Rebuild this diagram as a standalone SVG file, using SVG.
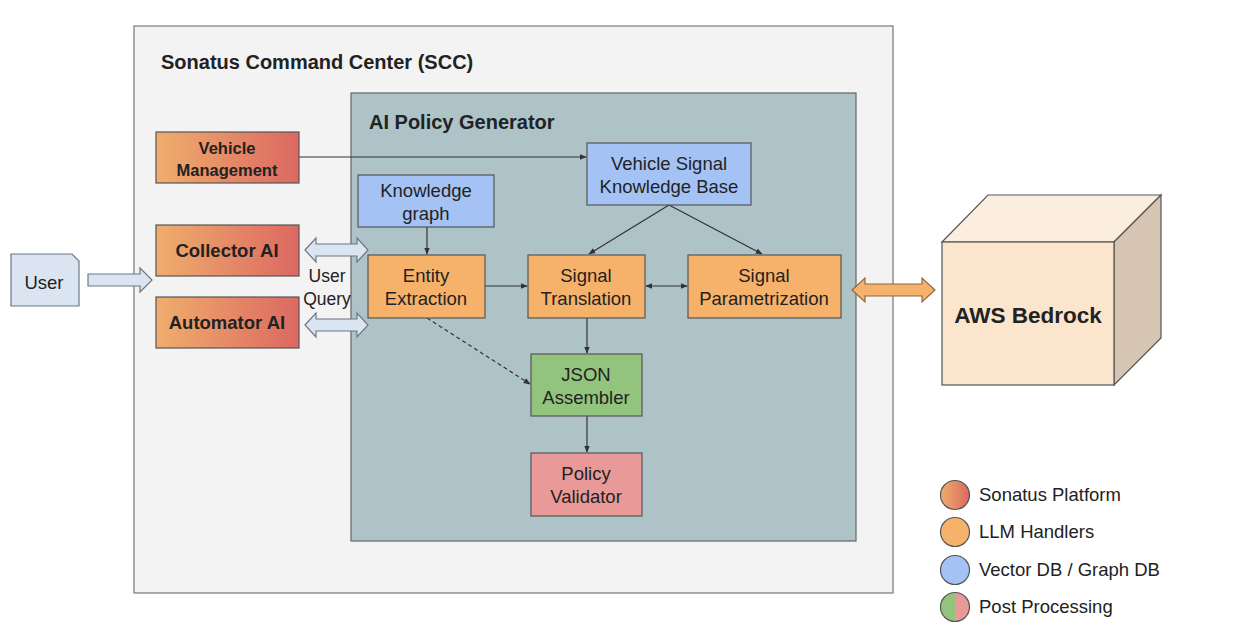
<svg xmlns="http://www.w3.org/2000/svg" width="1236" height="630" viewBox="0 0 1236 630">
<defs>
<linearGradient id="plat" x1="0" y1="0" x2="1" y2="0">
<stop offset="0" stop-color="#efae6c"/>
<stop offset="1" stop-color="#dc6862"/>
</linearGradient>
<linearGradient id="post" x1="0" y1="0" x2="1" y2="0">
<stop offset="0.5" stop-color="#93c47d"/>
<stop offset="0.5" stop-color="#ea9999"/>
</linearGradient>
<marker id="ah" viewBox="0 0 10 10" refX="9" refY="5" markerWidth="7" markerHeight="7" markerUnits="userSpaceOnUse" orient="auto-start-reverse">
<path d="M0,1 L10,5 L0,9 Z" fill="#333"/>
</marker>
<style>
text{font-family:"Liberation Sans",Arial,sans-serif;fill:#222;text-anchor:middle}
.t{font-size:18.5px}
.b{font-weight:bold}
.plat{fill:url(#plat);stroke:#555;stroke-width:1.2}
.llm{fill:#f6b26b;stroke:#555;stroke-width:1.2}
.db{fill:#a4c2f4;stroke:#555;stroke-width:1.2}
.json{fill:#93c47d;stroke:#555;stroke-width:1.2}
.val{fill:#ea9999;stroke:#555;stroke-width:1.2}
.c{stroke:#333;stroke-width:1.2;fill:none}
.blk{fill:#dbe5f1;stroke:#6b7785;stroke-width:1.2}
.leg{font-size:18.5px;text-anchor:start}
</style>
</defs>
<rect width="1236" height="630" fill="#ffffff"/>

<g id="scc">
<rect x="134" y="26" width="759" height="567" fill="#f3f3f3" stroke="#777" stroke-width="1.2"/>
<text x="161" y="69" class="b" style="font-size:20px;text-anchor:start">Sonatus Command Center (SCC)</text>
</g>

<g id="ai-policy-generator">
<rect x="351" y="93" width="505" height="448" fill="#adc3c8" stroke="#666" stroke-width="1.2"/>
<text x="369" y="129" class="b" style="font-size:20px;text-anchor:start">AI Policy Generator</text>
</g>

<g id="connectors">
<line x1="299" y1="157" x2="586" y2="157" class="c" marker-end="url(#ah)"/>
<line x1="427" y1="227" x2="427" y2="254" class="c" marker-end="url(#ah)"/>
<line x1="669" y1="205" x2="589" y2="254" class="c" marker-end="url(#ah)"/>
<line x1="669" y1="205" x2="762" y2="254" class="c" marker-end="url(#ah)"/>
<line x1="485" y1="286" x2="527" y2="286" class="c" marker-end="url(#ah)"/>
<line x1="646" y1="286" x2="687" y2="286" class="c" marker-start="url(#ah)" marker-end="url(#ah)"/>
<line x1="587" y1="318" x2="587" y2="353" class="c" marker-end="url(#ah)"/>
<line x1="587" y1="416" x2="587" y2="452" class="c" marker-end="url(#ah)"/>
<line x1="427" y1="318" x2="530" y2="384" class="c" stroke-dasharray="4,3" marker-end="url(#ah)"/>
<path d="M88,274 H140 V268 L152,280 L140,292 V286 H88 Z" class="blk"/>
<path d="M305,250 L316,238 V244 H357 V238 L368,250 L357,262 V256 H316 V262 Z" class="blk"/>
<path d="M305,325 L316,313 V319 H357 V313 L368,325 L357,337 V331 H316 V337 Z" class="blk"/>
<path d="M852,290 L865,278 V284 H922 V278 L935,290 L922,302 V296 H865 V302 Z" fill="#f6b26b" stroke="#8a6a40" stroke-width="1.2"/>
<text x="327" y="282" style="font-size:17.5px">User</text>
<text x="327" y="305" style="font-size:17.5px">Query</text>
</g>

<g id="user">
<path d="M11,254 H72 L79,261 V306 H11 Z" class="blk"/>
<text x="44" y="289" class="t">User</text>
</g>

<g id="vehicle-management">
<rect x="156" y="132" width="143" height="51" class="plat"/>
<text x="227" y="154" class="b" style="font-size:16.5px">Vehicle</text>
<text x="227" y="176" class="b" style="font-size:16.5px">Management</text>
</g>

<g id="collector-ai">
<rect x="156" y="225" width="143" height="51" class="plat"/>
<text x="227" y="257" class="b t">Collector AI</text>
</g>

<g id="automator-ai">
<rect x="156" y="297" width="143" height="51" class="plat"/>
<text x="227" y="329" class="b t">Automator AI</text>
</g>

<g id="knowledge-graph">
<rect x="358" y="175" width="136" height="52" class="db"/>
<text x="426" y="197" class="t">Knowledge</text>
<text x="426" y="220" class="t">graph</text>
</g>

<g id="vehicle-signal-kb">
<rect x="587" y="143" width="164" height="62" class="db"/>
<text x="669" y="170" class="t">Vehicle Signal</text>
<text x="669" y="193" class="t">Knowledge Base</text>
</g>

<g id="entity-extraction">
<rect x="368" y="255" width="117" height="63" class="llm"/>
<text x="426" y="282" class="t">Entity</text>
<text x="426" y="305" class="t">Extraction</text>
</g>

<g id="signal-translation">
<rect x="528" y="255" width="117" height="63" class="llm"/>
<text x="586" y="282" class="t">Signal</text>
<text x="586" y="305" class="t">Translation</text>
</g>

<g id="signal-parametrization">
<rect x="688" y="255" width="153" height="63" class="llm"/>
<text x="764" y="282" class="t">Signal</text>
<text x="764" y="305" class="t">Parametrization</text>
</g>

<g id="json-assembler">
<rect x="531" y="354" width="111" height="62" class="json"/>
<text x="586" y="381" class="t">JSON</text>
<text x="586" y="404" class="t">Assembler</text>
</g>

<g id="policy-validator">
<rect x="531" y="453" width="111" height="63" class="val"/>
<text x="586" y="480" class="t">Policy</text>
<text x="586" y="503" class="t">Validator</text>
</g>

<g id="aws-bedrock">
<path d="M942,242 L988,195 H1161 L1114,242 Z" fill="#fbeedf" stroke="#555" stroke-width="1.2"/>
<path d="M1114,242 L1161,195 V338 L1114,385 Z" fill="#d6c5b2" stroke="#555" stroke-width="1.2"/>
<rect x="942" y="242" width="172" height="143" fill="#fbe5cd" stroke="#555" stroke-width="1.2"/>
<text x="1028" y="323" class="b" style="font-size:22.5px">AWS Bedrock</text>
</g>

<g id="legend">
<circle cx="955" cy="495" r="14.5" fill="url(#plat)" stroke="#555" stroke-width="1.2"/>
<circle cx="955" cy="532" r="14.5" fill="#f6b26b" stroke="#555" stroke-width="1.2"/>
<circle cx="955" cy="570" r="14.5" fill="#a4c2f4" stroke="#555" stroke-width="1.2"/>
<circle cx="955" cy="607" r="14.5" fill="url(#post)" stroke="#555" stroke-width="1.2"/>
<text x="979" y="501" class="leg">Sonatus Platform</text>
<text x="979" y="538" class="leg">LLM Handlers</text>
<text x="979" y="576" class="leg">Vector DB / Graph DB</text>
<text x="979" y="613" class="leg">Post Processing</text>
</g>
</svg>
